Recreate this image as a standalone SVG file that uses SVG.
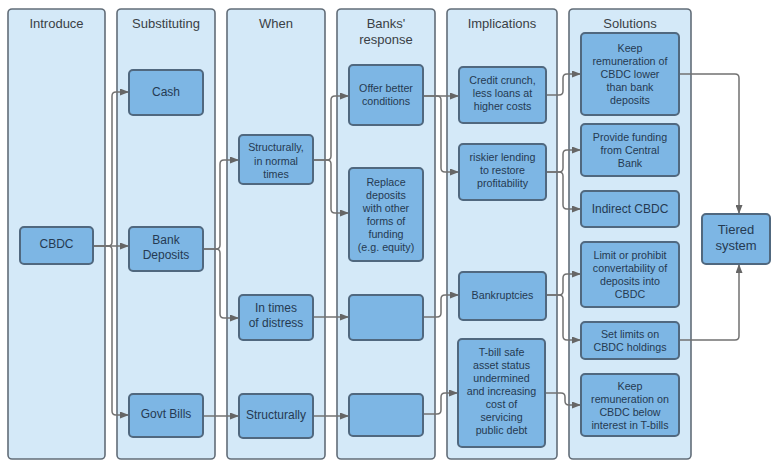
<svg xmlns="http://www.w3.org/2000/svg" width="772" height="461" viewBox="0 0 772 461">
<defs>
<style>
.lane{fill:#d4e9f8;stroke:#626d78;stroke-width:1.6}
.node{fill:#7db6e4;stroke:#50687f;stroke-width:2}
.hd{font-family:"Liberation Sans",Arial,sans-serif;font-size:13px;fill:#3a3f45;text-anchor:middle}
.t{font-family:"Liberation Sans",Arial,sans-serif;font-size:10.7px;fill:#253a52;text-anchor:middle}
.m{font-family:"Liberation Sans",Arial,sans-serif;font-size:12px;fill:#253a52;text-anchor:middle}
.l{font-family:"Liberation Sans",Arial,sans-serif;font-size:13px;fill:#253a52;text-anchor:middle}
.c{fill:none;stroke:#727272;stroke-width:1.5;marker-end:url(#ah)}
</style>
<marker id="ah" markerWidth="9" markerHeight="7" refX="9" refY="3.5" orient="auto" markerUnits="userSpaceOnUse">
<path d="M0,0 L9,3.5 L0,7 z" fill="#666"/>
</marker>
</defs>
<rect width="772" height="461" fill="#fff"/>

<g id="lane-introduce"><rect class="lane" x="8" y="9" width="97" height="450" rx="4"/><text class="hd" x="56.5" y="27.5">Introduce</text></g>
<g id="lane-substituting"><rect class="lane" x="117" y="9" width="98" height="450" rx="4"/><text class="hd" x="166" y="27.5">Substituting</text></g>
<g id="lane-when"><rect class="lane" x="227" y="9" width="98" height="450" rx="4"/><text class="hd" x="276" y="27.5">When</text></g>
<g id="lane-banks"><rect class="lane" x="337" y="9" width="98" height="450" rx="4"/><text class="hd" x="386" y="27.5">Banks'</text><text class="hd" x="386" y="44">response</text></g>
<g id="lane-implications"><rect class="lane" x="447" y="9" width="110" height="450" rx="4"/><text class="hd" x="502" y="27.5">Implications</text></g>
<g id="lane-solutions"><rect class="lane" x="569" y="9" width="122" height="450" rx="4"/><text class="hd" x="630" y="27.5">Solutions</text></g>

<g id="connectors">
<path class="c" d="M93,246 H108 Q112,246 112,242 V96 Q112,92 116,92 H129"/>
<path class="c" d="M93,246 H129"/>
<path class="c" d="M93,246 H108 Q112,246 112,250 V411 Q112,415 116,415 H129"/>
<path class="c" d="M203,249 H216 Q220,249 220,245 V164 Q220,160 224,160 H239"/>
<path class="c" d="M203,249 H216 Q220,249 220,253 V314 Q220,318 224,318 H239"/>
<path class="c" d="M203,416 H239"/>
<path class="c" d="M313,160 H327 Q331,160 331,156 V100 Q331,96 335,96 H349"/>
<path class="c" d="M313,160 H327 Q331,160 331,164 V209 Q331,213 335,213 H349"/>
<path class="c" d="M313,317 H349"/>
<path class="c" d="M313,416 H349"/>
<path class="c" d="M423,96 H459"/>
<path class="c" d="M423,96 H437 Q441,96 441,100 V168 Q441,172 445,172 H459"/>
<path class="c" d="M423,317 H437 Q441,317 441,313 V299 Q441,295 445,295 H459"/>
<path class="c" d="M423,414 H437 Q441,414 441,410 V397 Q441,393 445,393 H458"/>
<path class="c" d="M546,95 H559 Q563,95 563,91 V78 Q563,74 567,74 H581"/>
<path class="c" d="M546,172 H559 Q563,172 563,168 V154 Q563,150 567,150 H581"/>
<path class="c" d="M546,172 H559 Q563,172 563,176 V205 Q563,209 567,209 H581"/>
<path class="c" d="M546,295 H559 Q563,295 563,291 V278 Q563,274 567,274 H581"/>
<path class="c" d="M546,295 H559 Q563,295 563,299 V336 Q563,340 567,340 H581"/>
<path class="c" d="M545,393 H561 Q565,393 565,397 V401 Q565,405 569,405 H581"/>
<path class="c" d="M679,74 H735 Q739,74 739,78 V214"/>
<path class="c" d="M679,340 H735 Q739,340 739,336 V264"/>
</g>

<g id="n-cbdc"><rect class="node" x="20" y="227" width="73" height="37" rx="4"/><text class="m" x="56.5" y="248">CBDC</text></g>
<g id="n-cash"><rect class="node" x="129" y="70" width="74" height="45" rx="4"/><text class="m" x="166" y="96">Cash</text></g>
<g id="n-bankdep"><rect class="node" x="129" y="227" width="74" height="44" rx="4"/><text class="m" x="166" y="244">Bank</text><text class="m" x="166" y="259">Deposits</text></g>
<g id="n-govt"><rect class="node" x="129" y="394" width="74" height="43" rx="4"/><text class="m" x="166" y="418">Govt Bills</text></g>

<g id="n-struct-normal"><rect class="node" x="239" y="135" width="74" height="49" rx="4"/><text class="t" x="276" y="151">Structurally,</text><text class="t" x="276" y="165">in normal</text><text class="t" x="276" y="178">times</text></g>
<g id="n-distress"><rect class="node" x="239" y="295" width="74" height="45" rx="4"/><text class="m" x="276" y="312">In times</text><text class="m" x="276" y="327">of distress</text></g>
<g id="n-struct"><rect class="node" x="239" y="394" width="74" height="44" rx="4"/><text class="m" x="276" y="419">Structurally</text></g>

<g id="n-offer"><rect class="node" x="349" y="65" width="74" height="60" rx="4"/><text class="t" x="386" y="92">Offer better</text><text class="t" x="386" y="105">conditions</text></g>
<g id="n-replace"><rect class="node" x="349" y="168" width="74" height="93" rx="4"/><text class="t" x="386" y="186">Replace</text><text class="t" x="386" y="199">deposits</text><text class="t" x="386" y="212">with other</text><text class="t" x="386" y="225">forms of</text><text class="t" x="386" y="238">funding</text><text class="t" x="386" y="251">(e.g. equity)</text></g>
<g id="n-empty1"><rect class="node" x="349" y="295" width="74" height="45" rx="4"/></g>
<g id="n-empty2"><rect class="node" x="349" y="394" width="74" height="42" rx="4"/></g>

<g id="n-credit"><rect class="node" x="459" y="67" width="87" height="56" rx="4"/><text class="t" x="502.5" y="84">Credit crunch,</text><text class="t" x="502.5" y="97">less loans at</text><text class="t" x="502.5" y="110">higher costs</text></g>
<g id="n-riskier"><rect class="node" x="459" y="144" width="87" height="56" rx="4"/><text class="t" x="502.5" y="161">riskier lending</text><text class="t" x="502.5" y="174">to restore</text><text class="t" x="502.5" y="187">profitability</text></g>
<g id="n-bankrupt"><rect class="node" x="459" y="272" width="87" height="48" rx="4"/><text class="t" x="502.5" y="299">Bankruptcies</text></g>
<g id="n-tbill"><rect class="node" x="458" y="339" width="87" height="108" rx="4"/><text class="t" x="501.5" y="356">T-bill safe</text><text class="t" x="501.5" y="369">asset status</text><text class="t" x="501.5" y="382">undermined</text><text class="t" x="501.5" y="395">and increasing</text><text class="t" x="501.5" y="408">cost of</text><text class="t" x="501.5" y="421">servicing</text><text class="t" x="501.5" y="434">public debt</text></g>

<g id="n-keep-lower"><rect class="node" x="581" y="33" width="98" height="82" rx="4"/><text class="t" x="630" y="52">Keep</text><text class="t" x="630" y="65">remuneration of</text><text class="t" x="630" y="78">CBDC lower</text><text class="t" x="630" y="91">than bank</text><text class="t" x="630" y="104">deposits</text></g>
<g id="n-provide"><rect class="node" x="581" y="124" width="98" height="52" rx="4"/><text class="t" x="630" y="141">Provide funding</text><text class="t" x="630" y="154">from Central</text><text class="t" x="630" y="167">Bank</text></g>
<g id="n-indirect"><rect class="node" x="581" y="191" width="98" height="36" rx="4"/><text class="m" x="630" y="213">Indirect CBDC</text></g>
<g id="n-limit"><rect class="node" x="581" y="242" width="98" height="65" rx="4"/><text class="t" x="630" y="259">Limit or prohibit</text><text class="t" x="630" y="272">convertability of</text><text class="t" x="630" y="285">deposits into</text><text class="t" x="630" y="298">CBDC</text></g>
<g id="n-setlimits"><rect class="node" x="581" y="322" width="98" height="37" rx="4"/><text class="t" x="630" y="338">Set limits on</text><text class="t" x="630" y="351">CBDC holdings</text></g>
<g id="n-keep-below"><rect class="node" x="581" y="374" width="98" height="62" rx="4"/><text class="t" x="630" y="390">Keep</text><text class="t" x="630" y="403">remuneration on</text><text class="t" x="630" y="416">CBDC below</text><text class="t" x="630" y="429">interest in T-bills</text></g>

<g id="n-tiered"><rect class="node" x="702" y="214" width="68" height="50" rx="4"/><text class="l" x="736" y="233.5">Tiered</text><text class="l" x="736" y="249.5">system</text></g>
</svg>
